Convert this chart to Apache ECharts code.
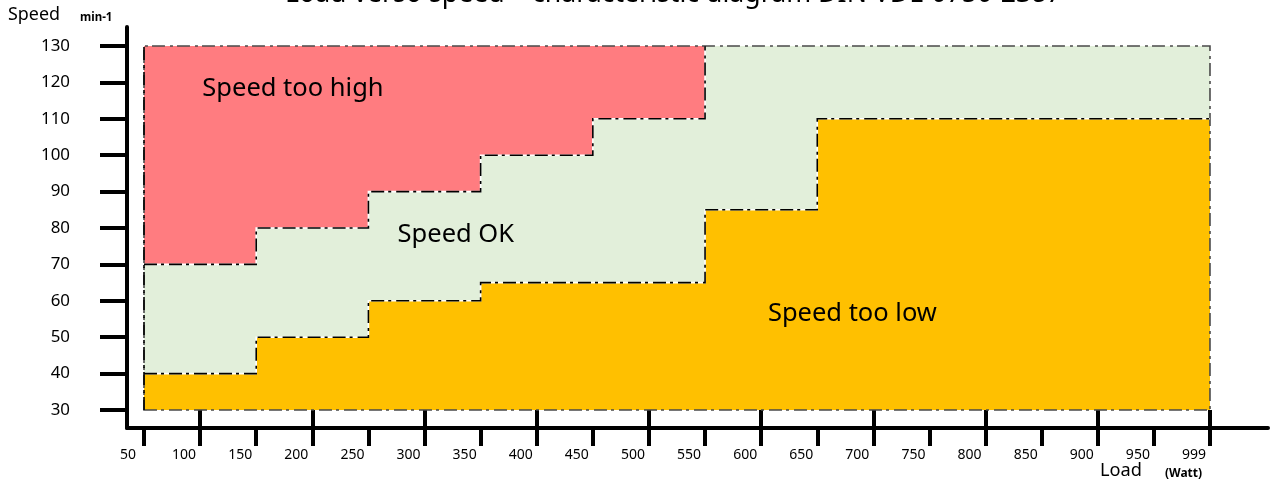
<!DOCTYPE html>
<html>
<head>
<meta charset="utf-8">
<script src="https://cdn.jsdelivr.net/npm/echarts@6/dist/echarts.min.js"></script>
<style>html,body{margin:0;padding:0;background:#fff}#c{width:1270px;height:487px}</style>
</head>
<body>
<div id="c"></div>
<script>
// ---------- data ----------
const loadTickValues = [50,100,150,200,250,300,350,400,450,500,550,600,650,700,750,800,850,900,950,1000];
const loadTickLabels = ['50','100','150','200','250','300','350','400','450','500','550','600','650','700','750','800','850','900','950','999'];
const loadMajorTicks = [100,200,300,400,500,600,700,800,900,1000];
const speedTickValues = [30,40,50,60,70,80,90,100,110,120,130];
const stepLoads = [50,150,250,350,450,550,650,1000];
const upperSpeedLimit = [70,80,90,100,110,130,130];
const lowerSpeedLimit = [40,50,60,65,65,85,110];
const speedRange = [30,130];
const zoneNames = ['Speed too high','Speed OK','Speed too low'];
const zoneColors = ['#FF7C80','#E2EFDA','#FFC000'];
const zoneLabelAnchors = [[102,118.2],[276,78.2],[606,56.4]];

const FONT = 'Noto Sans';
const DASH = [13,4,3,5];

function stair(xs, vals, stopAt) {
  const pts = [];
  for (let i = 0; i < vals.length; i++) {
    if (stopAt !== undefined && vals[i] >= stopAt) {
      pts.push([xs[i], stopAt]);
      break;
    }
    pts.push([xs[i], vals[i]], [xs[i + 1], vals[i]]);
  }
  return pts;
}

const xMinLoad = stepLoads[0], xMaxLoad = stepLoads[stepLoads.length - 1];
const [sMin, sMax] = speedRange;

function renderZones(params, api) {
  const c = p => api.coord(p);
  const upper = stair(stepLoads, upperSpeedLimit);
  const lower = stair(stepLoads, lowerSpeedLimit);
  const okRect = [[xMinLoad, sMin],[xMaxLoad, sMin],[xMaxLoad, sMax],[xMinLoad, sMax]];
  const highPoly = upper.concat([[xMinLoad, sMax]]);
  const lowPoly = lower.concat([[xMaxLoad, sMin],[xMinLoad, sMin]]);
  const upperLine = stair(stepLoads, upperSpeedLimit, sMax);
  const lowerLine = stair(stepLoads, lowerSpeedLimit);
  const poly = (pts, fill) => ({ type: 'polygon', shape: { points: pts.map(c) }, style: { fill: fill, stroke: null } });
  const line = (pts, stroke, dash, w) => ({ type: 'polyline', shape: { points: pts.map(c) }, style: { fill: null, stroke: stroke, lineWidth: w, lineDash: dash } });
  return {
    type: 'group',
    children: [
      poly(okRect, zoneColors[1]),
      poly(highPoly, zoneColors[0]),
      poly(lowPoly, zoneColors[2]),
      { type: 'polygon', shape: { points: okRect.map(c) }, style: { fill: null, stroke: '#4a4a4a', lineWidth: 1.6, lineDash: DASH } },
      line(upperLine, '#ffffff', null, 1.6),
      line(upperLine, '#000000', DASH, 1.6),
      line(lowerLine, '#ffffff', null, 1.6),
      line(lowerLine, '#000000', DASH, 1.6),
      { type: 'polyline', shape: { points: [[xMinLoad, sMin],[xMinLoad, sMax]].map(c) }, style: { fill: null, stroke: '#000', lineWidth: 1.6, lineDash: DASH } }
    ]
  };
}

const chart = echarts.init(document.getElementById('c'), null, { renderer: 'canvas' });
chart.setOption({
  animation: false,
  backgroundColor: '#ffffff',
  textStyle: { fontFamily: FONT },
  title: [
    { text: 'Load verso speed \u2013 characteristic diagram DIN VDE 0750-2387', left: 285, top: -19, padding: 0,
      textStyle: { fontFamily: FONT, fontSize: 26.7, fontWeight: 'normal', color: '#000' } },
    { text: 'Speed', left: 8, top: 6, padding: 0, textStyle: { fontFamily: FONT, fontSize: 17.9, fontWeight: 'normal', color: '#000' } },
    { text: 'min-1', left: 80, top: 12, padding: 0, textStyle: { fontFamily: FONT, fontSize: 11.5, fontWeight: 'bold', color: '#000' } },
    { text: 'Load', left: 1100, top: 462, padding: 0, textStyle: { fontFamily: FONT, fontSize: 18.2, fontWeight: 'normal', color: '#000' } },
    { text: '(Watt)', left: 1165, top: 468, padding: 0, textStyle: { fontFamily: FONT, fontSize: 12, fontWeight: 'bold', color: '#000' } }
  ],
  grid: { left: 127, right: 2, top: 27, bottom: 59, containLabel: false },
  xAxis: [
    {
      type: 'value', min: 34.85, max: 1051.7, position: 'bottom',
      splitLine: { show: false },
      axisLine: { show: true, lineStyle: { color: '#000', width: 4 } },
      axisTick: { show: true, customValues: loadTickValues, length: 18, inside: false, lineStyle: { color: '#000', width: 4 } },
      axisLabel: { show: true, customValues: loadTickValues, margin: 20, fontSize: 14, color: '#000', fontFamily: FONT,
        padding: [0, 32, 0, 0],
        formatter: v => { const i = loadTickValues.indexOf(Math.round(v)); return i >= 0 ? loadTickLabels[i] : ''; } }
    },
    {
      type: 'value', min: 34.85, max: 1051.7, position: 'bottom',
      splitLine: { show: false },
      axisLine: { show: false },
      axisTick: { show: true, customValues: loadMajorTicks, length: 18, inside: true, lineStyle: { color: '#000', width: 4 } },
      axisLabel: { show: false }
    }
  ],
  yAxis: {
    type: 'value', min: 25.05, max: 135.22,
    splitLine: { show: false },
    axisLine: { show: true, lineStyle: { color: '#000', width: 4 } },
    axisTick: { show: true, customValues: speedTickValues, length: 27, lineStyle: { color: '#000', width: 4 } },
    axisLabel: { show: true, customValues: speedTickValues, margin: 57, fontSize: 16.9, color: '#000', fontFamily: FONT }
  },
  series: [
    { type: 'custom', coordinateSystem: 'cartesian2d', xAxisIndex: 0, yAxisIndex: 0, data: [[xMinLoad, sMin]], renderItem: renderZones, silent: true, z: 1 },
    { type: 'scatter', xAxisIndex: 0, yAxisIndex: 0, symbolSize: 0, silent: true, z: 5,
      itemStyle: { opacity: 1 },
      data: zoneLabelAnchors.map((p, i) => ({ value: p, name: zoneNames[i] })),
      label: { show: true, position: 'right', distance: 0, formatter: '{b}', fontSize: 25.5, color: '#000', opacity: 1, fontFamily: FONT } }
  ]
});
</script>
</body>
</html>
